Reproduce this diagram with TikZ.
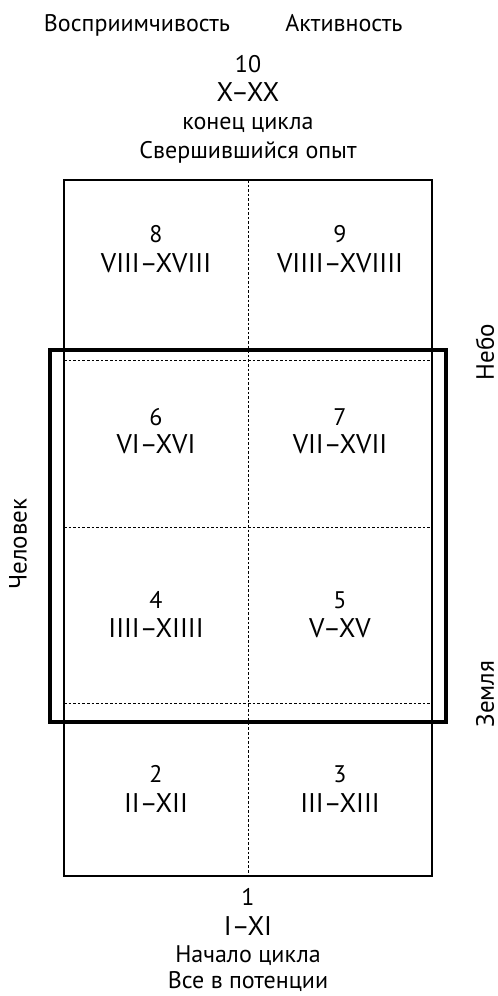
\documentclass[tikz,border=0pt]{standalone}
\usepackage{fontspec}
\setmainfont{PT Sans}
\begin{document}
\begin{tikzpicture}[x=0.5pt,y=-0.5pt,
  txt/.style={inner sep=0pt,anchor=base,font=\fontsize{12}{14}\selectfont},
  roman/.style={inner sep=0pt,anchor=base,font=\fontsize{13.5}{16}\selectfont},
  side/.style={inner sep=0pt,rotate=90,font=\fontsize{12.5}{14}\selectfont},
  thinln/.style={line width=0.8pt},
  thickln/.style={line width=2.3pt},
  dashln/.style={line width=0.45pt,dash pattern=on 1.3pt off 1pt}]
\useasboundingbox (0,0) rectangle (498,996);
% grid
\draw[dashln] (248,180) -- (248,876);
\draw[dashln] (64,360) -- (432,360);
\draw[dashln] (64,527) -- (432,527);
\draw[dashln] (64,703) -- (432,703);
\draw[thinln] (64,180) rectangle (432,876);
\draw[thickln] (50,350) rectangle (446,722);
% headers
\node[txt] (vos) at (137,31) {Восприимчивость};
\node[txt] (akt) at (344,31) {Активность};
\node[txt] (t10) at (248,72) {10};
\node[roman] (t10r) at (248,101) {X–XX};
\node[txt] (t10a) at (248,129) {конец цикла};
\node[txt] (t10b) at (248,158) {Свершившийся опыт};
% cells
\node[txt] (c8) at (156,242) {8};
\node[roman] (c8r) at (156,272) {VIII–XVIII};
\node[txt] (c9) at (340,242) {9};
\node[roman] (c9r) at (340,272) {VIIII–XVIIII};
\node[txt] (c6) at (156,425) {6};
\node[roman] (c6r) at (156,453) {VI–XVI};
\node[txt] (c7) at (340,425) {7};
\node[roman] (c7r) at (340,453) {VII–XVII};
\node[txt] (c4) at (156,608) {4};
\node[roman] (c4r) at (156,637) {IIII–XIIII};
\node[txt] (c5) at (340,608) {5};
\node[roman] (c5r) at (340,637) {V–XV};
\node[txt] (c2) at (156,782) {2};
\node[roman] (c2r) at (156,812) {II–XII};
\node[txt] (c3) at (340,782) {3};
\node[roman] (c3r) at (340,812) {III–XIII};
% bottom
\node[txt] (b1) at (248,905) {1};
\node[roman] (b1r) at (248,935) {I–XI};
\node[txt] (b1a) at (248,962) {Начало цикла};
\node[txt] (b1b) at (248,988) {Все в потенции};
% sides
\node[side] (nebo) at (485,352) {Небо};
\node[side] (zem) at (485,694) {Земля};
\node[side] (chel) at (18,544) {Человек};
\end{tikzpicture}
\end{document}
